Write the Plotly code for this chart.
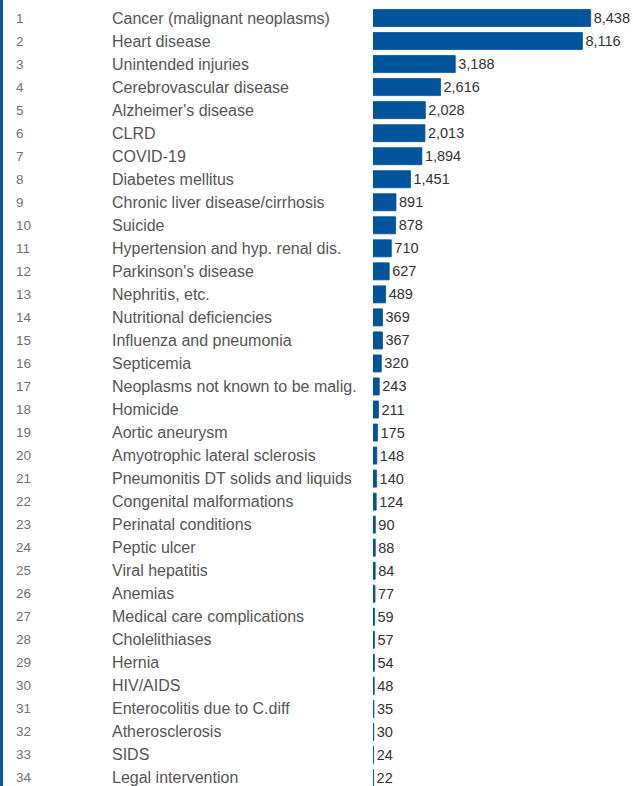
import plotly.graph_objects as go

ranks = list(range(1, 35))
causes = [
    "Cancer (malignant neoplasms)", "Heart disease", "Unintended injuries",
    "Cerebrovascular disease", "Alzheimer's disease", "CLRD", "COVID-19",
    "Diabetes mellitus", "Chronic liver disease/cirrhosis", "Suicide",
    "Hypertension and hyp. renal dis.", "Parkinson's disease", "Nephritis, etc.",
    "Nutritional deficiencies", "Influenza and pneumonia", "Septicemia",
    "Neoplasms not known to be malig.", "Homicide", "Aortic aneurysm",
    "Amyotrophic lateral sclerosis", "Pneumonitis DT solids and liquids",
    "Congenital malformations", "Perinatal conditions", "Peptic ulcer",
    "Viral hepatitis", "Anemias", "Medical care complications",
    "Cholelithiases", "Hernia", "HIV/AIDS", "Enterocolitis due to C.diff",
    "Atherosclerosis", "SIDS", "Legal intervention",
]
deaths = [8438, 8116, 3188, 2616, 2028, 2013, 1894, 1451, 891, 878, 710, 627,
          489, 369, 367, 320, 243, 211, 175, 148, 140, 124, 90, 88, 84, 77,
          59, 57, 54, 48, 35, 30, 24, 22]

W, H = 633, 786
BAR_LEFT = 373
ROW = 23.03
FIRST = 18
BLUE = "#00549c"
FONT = "Liberation Sans, Arial, sans-serif"

ymin = 1 - FIRST / ROW
ymax = ymin + H / ROW

fig = go.Figure()
fig.add_trace(go.Bar(
    x=deaths, y=ranks, orientation="h",
    marker=dict(color=BLUE, line=dict(color=BLUE, width=0.8)),
    width=0.74,
    text=[f"{v:,}" for v in deaths], textposition="outside",
    textfont=dict(family=FONT, size=14.5, color="#333333"),
    cliponaxis=False, hoverinfo="skip",
))

for r, c in zip(ranks, causes):
    fig.add_annotation(x=14 / W, y=r, xref="paper", yref="y", text=str(r),
                       showarrow=False, xanchor="left", yanchor="middle",
                       font=dict(family=FONT, size=13.5, color="#707070"))
    fig.add_annotation(x=110 / W, y=r, xref="paper", yref="y", text=c,
                       showarrow=False, xanchor="left", yanchor="middle",
                       font=dict(family=FONT, size=16, color="#555555"))

fig.add_shape(type="rect", xref="paper", yref="paper", x0=0, x1=3 / W,
              y0=0, y1=1, fillcolor="#0a57a2", line=dict(width=0))

fig.update_layout(
    width=W, height=H,
    margin=dict(l=0, r=0, t=0, b=0),
    paper_bgcolor="white", plot_bgcolor="white",
    showlegend=False,
    xaxis=dict(domain=[BAR_LEFT / W, 1], range=[0, (W - BAR_LEFT) / 0.0258],
               visible=False, fixedrange=True),
    yaxis=dict(range=[ymax, ymin], visible=False, fixedrange=True),
    uniformtext=dict(mode=False),
)

fig.write_html("out.html", config={"displayModeBar": False},
               post_script="document.body.style.margin='0';document.body.style.overflow='hidden';")
